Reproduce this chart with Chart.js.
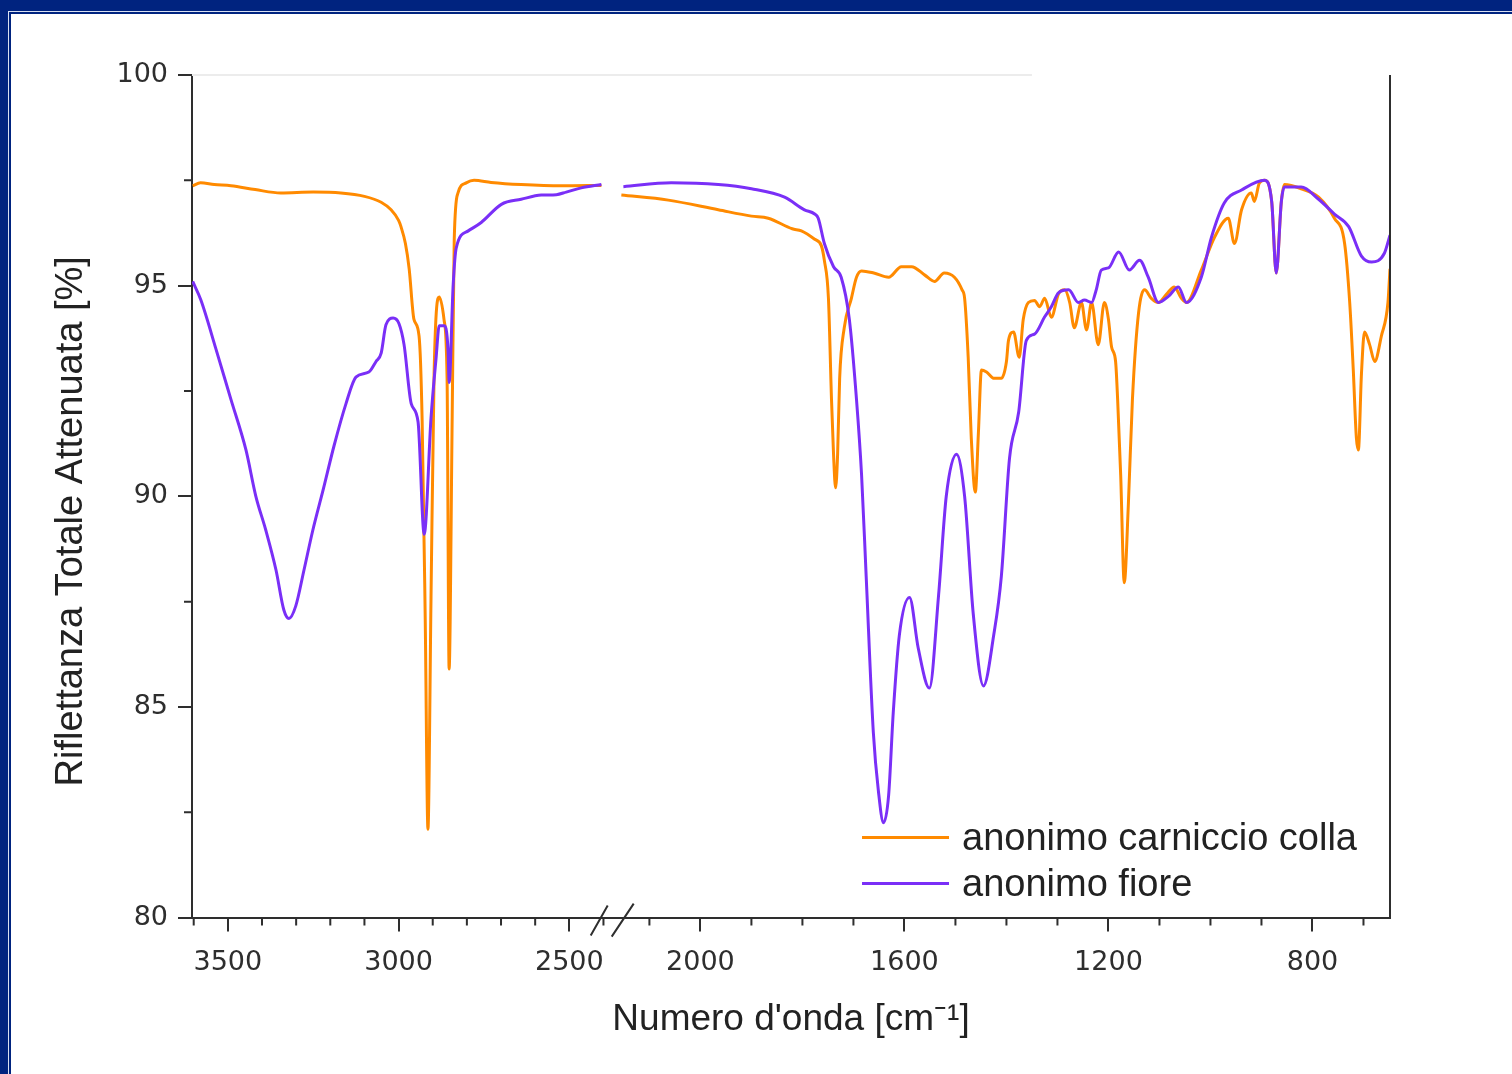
<!DOCTYPE html>
<html>
<head>
<meta charset="utf-8">
<script src="https://cdn.jsdelivr.net/npm/chart.js@4.4.1/dist/chart.umd.min.js"></script>
<style>
  html, body { margin: 0; padding: 0; width: 1512px; height: 1074px; overflow: hidden; background: #00237f; }
  #rule { position: absolute; left: 8px; top: 11px; right: 0; bottom: 0; border-left: 1px solid #d8dff0; border-top: 1px solid #d8dff0; }
  #frame { position: absolute; left: 11px; top: 14px; width: 1501px; height: 1060px; background: #fff; }
</style>
</head>
<body>
<div id="rule"></div>
<div id="frame"><canvas id="chartFtir"></canvas></div>
<script>
// spettri ATR: [numero d'onda, riflettanza %]
const collaLeft = [
  [3603,97.37],[3580,97.44],[3540,97.4],[3491,97.37],[3420,97.28],[3345,97.2],[3250,97.22],[3169,97.2],
  [3100,97.12],[3051,96.98],[3022,96.8],[3000,96.55],[2993,96.4],[2980,96.0],[2969,95.4],[2955,94.2],
  [2940,93.8],[2931,91.8],[2922,87.1],[2914,82.1],[2905,87.6],[2896,92.9],[2881,94.73],[2867,94.2],
  [2858,92.8],[2852,85.9],[2843,91.9],[2837,96.1],[2826,97.2],[2802,97.44],[2779,97.5],[2729,97.45],
  [2641,97.4],[2523,97.37],[2406,97.38]
];
const collaRight = [
  [2155,97.15],[2063,97.03],[1965,96.8],[1900,96.65],[1867,96.6],[1820,96.35],[1802,96.3],[1776,96.1],
  [1763,95.95],[1757,95.6],[1749,94.7],[1743,92.3],[1739,91.0],[1735,90.2],[1731,91.0],[1727,92.8],
  [1718,94.0],[1704,94.7],[1694,95.2],[1684,95.35],[1660,95.3],[1631,95.2],[1606,95.45],[1586,95.45],
  [1560,95.25],[1541,95.1],[1522,95.3],[1502,95.2],[1487,94.9],[1482,94.7],[1475,93.3],[1469,91.4],
  [1461,90.1],[1455,91.5],[1449,93.0],[1439,92.95],[1424,92.8],[1410,92.8],[1400,93.2],[1396,93.7],
  [1386,93.9],[1375,93.3],[1367,94.2],[1357,94.6],[1345,94.65],[1335,94.5],[1325,94.7],[1312,94.25],
  [1298,94.8],[1286,94.9],[1276,94.6],[1267,94.0],[1253,94.6],[1243,93.95],[1233,94.6],[1220,93.6],
  [1208,94.6],[1200,94.2],[1194,93.55],[1186,93.2],[1182,92.3],[1176,90.5],[1169,87.95],[1161,89.8],
  [1153,92.3],[1141,94.35],[1129,94.9],[1116,94.7],[1102,94.6],[1086,94.8],[1071,94.97],[1057,94.7],
  [1047,94.6],[1018,95.37],[992,96.15],[965,96.6],[953,96.0],[939,96.8],[920,97.2],[914,97.0],
  [904,97.44],[894,97.5],[880,97.0],[871,95.3],[861,97.0],[855,97.4],[822,97.3],[788,97.1],
  [757,96.6],[737,96.0],[727,94.6],[720,93.0],[714,91.4],[710,91.1],[704,92.9],[698,93.9],
  [688,93.6],[678,93.2],[665,93.8],[652,94.6],[648,95.4]
];
const fioreLeft = [
  [3603,95.1],[3579,94.66],[3535,93.5],[3491,92.3],[3447,91.1],[3418,90.0],[3389,89.2],[3359,88.25],
  [3336,87.3],[3321,87.1],[3301,87.4],[3277,88.25],[3251,89.2],[3221,90.15],[3189,91.2],[3154,92.2],
  [3125,92.83],[3087,92.95],[3066,93.2],[3051,93.4],[3037,94.07],[3016,94.23],[2999,94.1],[2984,93.6],
  [2963,92.2],[2943,91.77],[2925,89.1],[2905,91.86],[2890,93.3],[2881,94.05],[2867,94.05],[2855,93.45],
  [2852,92.7],[2840,95.04],[2831,95.9],[2796,96.3],[2758,96.5],[2699,96.93],[2641,97.05],[2582,97.15],
  [2538,97.16],[2509,97.22],[2465,97.32],[2406,97.4]
];
const fioreRight = [
  [2151,97.35],[2057,97.44],[1965,97.4],[1900,97.3],[1835,97.1],[1796,96.8],[1776,96.7],[1769,96.6],
  [1757,96.0],[1739,95.45],[1724,95.2],[1708,94.2],[1694,92.3],[1684,90.5],[1675,88.1],[1661,84.4],
  [1651,83.0],[1641,82.25],[1631,82.9],[1622,84.85],[1610,86.7],[1590,87.6],[1573,86.4],[1551,85.45],
  [1533,87.66],[1518,90.0],[1498,91.0],[1482,90.0],[1465,87.2],[1445,85.5],[1425,86.7],[1410,88.1],
  [1394,90.9],[1376,92.0],[1361,93.7],[1345,93.85],[1325,94.26],[1312,94.5],[1298,94.83],[1278,94.9],
  [1259,94.6],[1247,94.66],[1233,94.6],[1224,94.9],[1214,95.37],[1200,95.42],[1180,95.8],[1159,95.37],
  [1139,95.6],[1122,95.2],[1102,94.6],[1082,94.75],[1063,94.97],[1047,94.6],[1018,95.2],[998,96.15],
  [973,96.96],[939,97.27],[894,97.5],[880,97.0],[871,95.3],[861,97.0],[855,97.34],[822,97.34],
  [788,97.05],[757,96.7],[729,96.4],[704,95.7],[684,95.56],[659,95.77],[648,96.2]
];

const seriesLabels = ['anonimo carniccio colla', 'anonimo fiore'];
const seriesColors = ['#ff8a00', '#7a2ff7'];
const yTitle = 'Riflettanza Totale Attenuata [%]';
const xTitle = "Numero d'onda [cm⁻¹]";

const yTicks = [80, 85, 90, 95, 100];
const yMinor = [82.5, 87.5, 92.5, 97.5];
const leftTicks = [3500, 3000, 2500];
const leftMinor = [3600, 3400, 3300, 3200, 3100, 2900, 2800, 2700, 2600, 2400];
const rightTicks = [2000, 1600, 1200, 800];
const rightMinor = [2100, 1900, 1800, 1700, 1500, 1400, 1300, 1100, 1000, 900, 700];

const AXIS = '#2e2e2e';
const TICK_FONT = { family: 'DejaVu Sans', size: 27 };
const TITLE_FONT = { family: 'Liberation Sans', size: 37, weight: 'normal' };

function toXY(arr){ return arr.map(([x, y]) => ({ x, y })); }

function line(label, data, axis, color, order){
  return {
    label, data: toXY(data), xAxisID: axis, yAxisID: 'y',
    borderColor: color, backgroundColor: color, borderWidth: 3,
    pointRadius: 0, fill: false, cubicInterpolationMode: 'monotone', order,
  };
}

function xAxis(min, max, weight, ticks){
  return {
    type: 'linear', position: 'bottom', stack: 'wn', stackWeight: weight,
    reverse: true, min, max,
    afterBuildTicks: s => { s.ticks = ticks.map(v => ({ value: v })); },
    afterFit: s => { s.height = 80; },
    grid: { display: true, drawOnChartArea: false, drawTicks: true, tickLength: 14, color: AXIS, lineWidth: 2 },
    border: { display: true, color: AXIS, width: 2 },
    ticks: { color: AXIS, font: TICK_FONT, padding: 15, maxRotation: 0, callback: v => String(v) },
  };
}

// tacche minori, cornice destra, interruzione asse, titolo Y e legenda interna
const decor = {
  id: 'decor',
  afterDraw(chart){
    const { ctx, chartArea: a, scales: { xL, xR, y } } = chart;
    ctx.save();
    ctx.strokeStyle = '#ececec'; ctx.lineWidth = 2;
    ctx.beginPath(); ctx.moveTo(a.left, a.top); ctx.lineTo(xR.getPixelForValue(1350), a.top); ctx.stroke();

    ctx.strokeStyle = AXIS; ctx.lineWidth = 2;
    ctx.beginPath();
    yMinor.forEach(v => { const p = y.getPixelForValue(v); ctx.moveTo(a.left, p); ctx.lineTo(a.left - 8, p); });
    leftMinor.forEach(v => { const p = xL.getPixelForValue(v); ctx.moveTo(p, a.bottom); ctx.lineTo(p, a.bottom + 8); });
    rightMinor.forEach(v => { const p = xR.getPixelForValue(v); ctx.moveTo(p, a.bottom); ctx.lineTo(p, a.bottom + 8); });
    ctx.moveTo(a.right, a.top); ctx.lineTo(a.right, a.bottom);
    const b = xL.right;
    ctx.moveTo(b - 23, a.bottom + 18); ctx.lineTo(b - 6, a.bottom - 12);
    ctx.moveTo(b - 2, a.bottom + 19); ctx.lineTo(b + 20, a.bottom - 14);
    ctx.stroke();

    // titolo asse Y (leggermente sotto il centro, come nell'originale)
    ctx.fillStyle = '#222';
    ctx.font = `38px "${TITLE_FONT.family}"`;
    ctx.textAlign = 'center'; ctx.textBaseline = 'middle';
    ctx.translate(y.left + 22, (a.top + a.bottom) / 2 + 25);
    ctx.rotate(-Math.PI / 2);
    ctx.fillText(yTitle, 0, 0);
    ctx.setTransform(1, 0, 0, 1, 0, 0);

    ctx.font = `38px "${TITLE_FONT.family}"`;
    ctx.textAlign = 'left';
    const w = Math.max(...seriesLabels.map(t => ctx.measureText(t).width));
    const tx = a.right - 33 - w;
    seriesLabels.forEach((t, i) => {
      const ly = a.bottom - 80 + i * 46;
      ctx.strokeStyle = seriesColors[i]; ctx.lineWidth = 3;
      ctx.beginPath(); ctx.moveTo(tx - 100, ly); ctx.lineTo(tx - 13, ly); ctx.stroke();
      ctx.fillStyle = '#222';
      ctx.fillText(t, tx, ly + 2);
    });
    ctx.restore();
  }
};

new Chart(document.getElementById('chartFtir'), {
  type: 'line',
  data: {
    datasets: [
      line(seriesLabels[0], collaLeft, 'xL', seriesColors[0], 2),
      line(seriesLabels[0], collaRight, 'xR', seriesColors[0], 2),
      line(seriesLabels[1], fioreLeft, 'xL', seriesColors[1], 1),
      line(seriesLabels[1], fioreRight, 'xR', seriesColors[1], 1),
    ]
  },
  options: {
    responsive: true,
    maintainAspectRatio: false,
    animation: false,
    layout: { padding: { top: 61, right: 122, left: 39, bottom: 32 } },
    plugins: {
      legend: { display: false },
      tooltip: { enabled: false },
      title: {
        display: true, position: 'bottom', fullSize: false,
        text: xTitle, font: TITLE_FONT, color: '#222', padding: 0,
      },
    },
    scales: {
      xL: xAxis(2370, 3605, 421, leftTicks),
      xR: xAxis(648, 2170, 775, rightTicks),
      y: {
        type: 'linear', position: 'left', min: 80, max: 100,
        afterBuildTicks: s => { s.ticks = yTicks.map(v => ({ value: v })); },
        afterFit: s => { s.width = 142; },
        grid: { display: true, drawOnChartArea: false, drawTicks: true, tickLength: 14, color: AXIS, lineWidth: 2 },
        border: { display: true, color: AXIS, width: 2 },
        ticks: { color: AXIS, font: TICK_FONT, padding: 10, callback: v => String(v) },
      }
    }
  },
  plugins: [decor]
});
</script>
</body>
</html>
